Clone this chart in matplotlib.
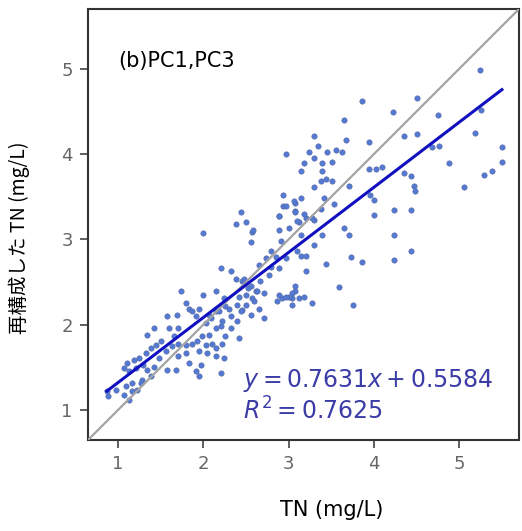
import matplotlib.pyplot as plt
import numpy as np

tn_obs = [
    5.24, 4.50, 3.86, 4.22, 4.75, 3.65, 5.25, 5.18, 4.35, 4.50,
    3.94, 3.67, 3.30, 5.50, 4.68, 4.76, 3.34, 3.24, 3.45, 3.55,
    3.63, 3.30, 3.39, 3.51, 3.18, 4.88, 5.50, 3.94, 4.02, 4.09,
    3.14, 3.39, 4.35, 3.44, 5.29, 5.38, 3.38, 3.51, 4.44, 4.47,
    4.48, 3.71, 3.30, 5.05, 3.14, 3.41, 3.96, 4.00, 3.53, 3.08,
    3.38, 4.00, 4.23, 4.44, 3.08, 3.20, 3.30, 3.12, 3.65, 4.23,
    3.71, 2.97, 2.94, 2.94, 3.18, 2.89, 3.27, 4.44, 3.73, 3.86,
    4.23, 3.44, 3.20, 3.59, 3.08, 3.08, 3.04, 3.12, 3.18, 3.28,
    3.76, 3.15, 3.21, 3.30, 3.39, 2.00, 2.56, 2.57, 2.21, 2.32,
    2.38, 2.79, 2.73, 2.65, 1.74, 2.00, 2.15, 2.24, 2.45, 2.53,
    2.62, 2.71, 2.92, 3.00, 2.57, 2.39, 2.45, 2.56, 2.71, 2.33,
    2.26, 2.15, 2.09, 2.03, 1.91, 1.83, 1.80, 1.69, 1.57, 1.42,
    1.34, 1.60, 1.71, 1.66, 1.50, 1.45, 1.39, 1.33, 1.25, 1.19,
    1.11, 1.07, 1.13, 1.21, 1.30, 1.34, 1.42, 1.48, 1.56, 1.63,
    1.71, 1.80, 1.87, 1.93, 1.98, 2.07, 2.15, 2.21, 2.10, 2.03,
    2.15, 2.22, 2.26, 2.33, 2.39, 2.42, 1.95, 2.04, 2.15, 2.24,
    1.80, 1.71, 1.83, 1.97, 1.57, 1.68, 1.91, 1.95, 2.21, 1.39,
    1.28, 1.16, 1.09, 1.16, 1.22, 1.13, 1.07, 0.89, 0.87, 0.98,
    1.27, 2.44, 2.38, 2.50, 2.58, 2.89, 2.97, 3.06, 2.89, 3.00,
    3.10, 3.08, 3.15, 2.91, 2.85, 2.97, 3.10, 2.48, 2.56, 2.67,
    2.77, 2.79, 2.89, 2.63, 2.89, 2.97, 3.04, 2.86, 3.04, 2.42,
    2.50, 2.59, 2.50, 2.30, 2.44, 2.65, 2.18, 2.07, 1.95, 1.87,
    2.22,
]
tn_rec = [
    4.99, 4.66, 4.62, 4.49, 4.46, 4.40, 4.52, 4.25, 4.21, 4.23,
    4.14, 4.17, 4.21, 4.08, 4.08, 4.10, 4.09, 4.03, 4.03, 4.05,
    4.02, 3.96, 3.89, 3.91, 3.89, 3.90, 3.91, 3.82, 3.83, 3.85,
    3.80, 3.80, 3.78, 3.71, 3.75, 3.80, 3.68, 3.68, 3.74, 3.63,
    3.57, 3.63, 3.61, 3.61, 3.49, 3.49, 3.52, 3.46, 3.41, 3.43,
    3.36, 3.29, 3.35, 3.35, 3.33, 3.25, 3.23, 3.20, 3.13, 3.05,
    3.05, 4.00, 3.52, 3.39, 3.30, 3.27, 3.25, 2.87, 2.79, 2.74,
    2.76, 2.71, 2.63, 2.44, 2.46, 2.40, 2.31, 2.31, 2.32, 2.26,
    2.23, 2.81, 2.81, 2.94, 3.05, 3.08, 2.97, 3.09, 2.67, 2.63,
    2.54, 2.86, 2.78, 2.70, 2.40, 2.35, 2.40, 2.31, 2.51, 2.43,
    2.39, 2.37, 2.31, 2.33, 2.31, 2.23, 2.17, 2.12, 2.08, 2.10,
    2.22, 2.16, 2.08, 2.02, 2.10, 2.19, 2.25, 2.11, 2.10, 1.96,
    1.88, 1.96, 1.96, 1.87, 1.81, 1.76, 1.73, 1.67, 1.61, 1.59,
    1.55, 1.49, 1.46, 1.49, 1.53, 1.47, 1.51, 1.61, 1.69, 1.75,
    1.78, 1.76, 1.78, 1.81, 1.87, 1.88, 1.96, 1.99, 1.78, 1.76,
    1.73, 1.78, 1.87, 1.96, 2.04, 1.84, 1.69, 1.67, 1.63, 1.61,
    1.67, 1.64, 1.55, 1.53, 1.47, 1.47, 1.46, 1.40, 1.44, 1.40,
    1.35, 1.32, 1.28, 1.22, 1.23, 1.12, 1.18, 1.16, 1.22, 1.23,
    1.32, 3.32, 3.18, 3.20, 3.11, 3.28, 3.39, 3.45, 3.11, 3.13,
    3.22, 3.32, 3.05, 2.98, 2.80, 2.78, 2.86, 2.54, 2.46, 2.51,
    2.58, 2.68, 2.66, 2.40, 2.35, 2.33, 2.37, 2.28, 2.23, 2.33,
    2.35, 2.28, 2.23, 2.19, 2.16, 2.19, 2.16, 2.11, 2.19, 2.16,
    2.05,
]

slope = 0.7631
intercept = 0.5584
r2 = 0.7625
lims = (0.65, 5.70)

x = np.array(tn_obs)
y = np.array(tn_rec)

fig = plt.figure(figsize=(5.22, 5.31), dpi=100)
ax = fig.add_axes([88 / 522, 91 / 531, 431 / 522, 431 / 531])

ax.scatter(x, y, s=15, color="#5479d4", edgecolors="#55699f",
           linewidths=0.4, zorder=2)

ax.plot(lims, lims, color="#a3a3a3", linewidth=1.6, zorder=3)
xf = np.array([x.min(), x.max()])
ax.plot(xf, slope * xf + intercept, color="#1010c0", linewidth=2.2, zorder=4)

ax.set_xlim(lims)
ax.set_ylim(lims)
ax.set_xticks([1, 2, 3, 4, 5])
ax.set_yticks([1, 2, 3, 4, 5])
ax.tick_params(axis="both", direction="out", length=6, width=1.2,
               color="#444444", labelcolor="#666666", labelsize=13, pad=5,
               top=False, right=False)
for sp in ax.spines.values():
    sp.set_color("#333333")
    sp.set_linewidth(1.5)

ax.text(0.07, 0.879, "(b)PC1,PC3", transform=ax.transAxes,
        fontsize=15, va="center", ha="left")
ax.text(0.36, 0.137, rf"$y = {slope:.4f}x + {intercept:.4f}$",
        transform=ax.transAxes, fontsize=17, color="#3c3ca8",
        va="center", ha="left")
ax.text(0.36, 0.067, rf"$R^2 = {r2:.4f}$",
        transform=ax.transAxes, fontsize=17, color="#3c3ca8",
        va="center", ha="left")

ax.set_xlabel("TN (mg/L)", fontsize=15, labelpad=14)
ax.xaxis.set_label_coords(0.566, -0.14)
ax.set_ylabel("再構成した TN (mg/L)", fontsize=14,
              family=["Noto Sans CJK JP", "DejaVu Sans"])
ax.yaxis.set_label_coords(-0.135, 0.47)

fig.savefig("out.png", dpi=100)
